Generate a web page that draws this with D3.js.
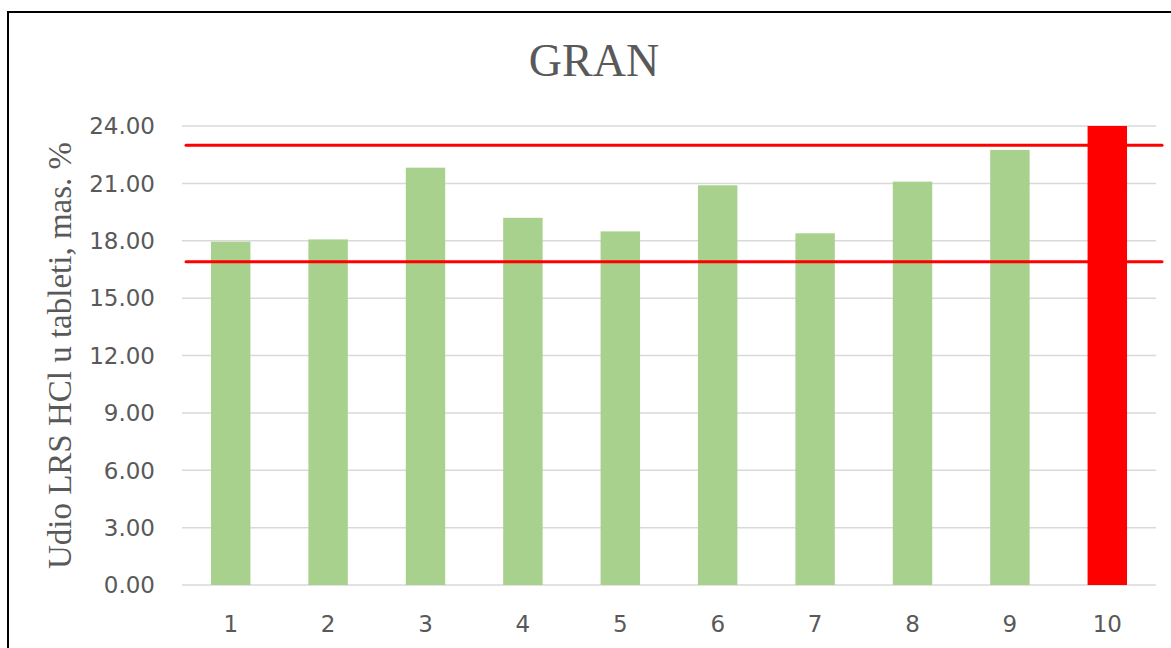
<!DOCTYPE html>
<html>
<head>
<meta charset="utf-8">
<script src="https://cdn.jsdelivr.net/npm/d3@7"></script>
<style>
  html, body { margin: 0; padding: 0; background: #fff; }
  svg { display: block; }
</style>
</head>
<body>
<svg id="chart"></svg>
<script>
const WIDTH = 1171;
const HEIGHT = 648;

// data
const samples = ["1", "2", "3", "4", "5", "6", "7", "8", "9", "10"];
const values = [17.95, 18.07, 21.82, 19.2, 18.49, 20.9, 18.39, 21.09, 22.75, 24.0];
const outOfRange = [false, false, false, false, false, false, false, false, false, true];
const limits = [23.0, 16.9];
const yTicks = [0, 3, 6, 9, 12, 15, 18, 21, 24];

const margin = { top: 126, right: 15, bottom: 63, left: 182 };

const svg = d3.select("#chart")
  .attr("width", WIDTH)
  .attr("height", HEIGHT);

// chart frame
svg.append("rect")
  .attr("x", 8)
  .attr("y", 12)
  .attr("width", 1200)
  .attr("height", 700)
  .attr("fill", "none")
  .attr("stroke", "#000")
  .attr("stroke-width", 2);

const x = d3.scaleBand()
  .domain(samples)
  .range([margin.left, WIDTH - margin.right])
  .paddingInner(0.595)
  .paddingOuter(0.2975);

const y = d3.scaleLinear()
  .domain([0, 24])
  .range([HEIGHT - margin.bottom, margin.top]);

// gridlines
svg.append("g")
  .selectAll("line")
  .data(yTicks)
  .join("line")
  .attr("x1", margin.left)
  .attr("x2", WIDTH - margin.right)
  .attr("y1", d => y(d))
  .attr("y2", d => y(d))
  .attr("stroke", "#d9d9d9")
  .attr("stroke-width", 1.5);

// y tick labels
svg.append("g")
  .selectAll("text")
  .data(yTicks)
  .join("text")
  .attr("x", margin.left - 27)
  .attr("y", d => y(d))
  .attr("dy", "0.36em")
  .attr("text-anchor", "end")
  .attr("font-family", "DejaVu Sans, sans-serif")
  .attr("font-size", 23)
  .attr("fill", "#595959")
  .text(d => d3.format(".2f")(d));

// bars
svg.append("g")
  .selectAll("rect")
  .data(values)
  .join("rect")
  .attr("x", (d, i) => x(samples[i]))
  .attr("y", d => y(d))
  .attr("width", x.bandwidth())
  .attr("height", d => y(0) - y(d))
  .attr("fill", (d, i) => outOfRange[i] ? "#ff0000" : "#a9d18e");

// limit lines
svg.append("g")
  .selectAll("line")
  .data(limits)
  .join("line")
  .attr("x1", x.range()[0] + 4)
  .attr("x2", x.range()[1] + 6)
  .attr("y1", d => y(d))
  .attr("y2", d => y(d))
  .attr("stroke", "#ff0000")
  .attr("stroke-width", 3)
  .attr("stroke-linecap", "round");

// x labels
svg.append("g")
  .selectAll("text")
  .data(samples)
  .join("text")
  .attr("x", d => x(d) + x.bandwidth() / 2)
  .attr("y", 632)
  .attr("text-anchor", "middle")
  .attr("font-family", "DejaVu Sans, sans-serif")
  .attr("font-size", 23)
  .attr("fill", "#595959")
  .text(d => d);

// title
svg.append("text")
  .attr("x", 594)
  .attr("y", 76)
  .attr("text-anchor", "middle")
  .attr("font-family", "Liberation Serif, serif")
  .attr("font-size", 46)
  .attr("fill", "#595959")
  .text("GRAN");

// y axis title
svg.append("text")
  .attr("transform", `translate(71, ${(y(0) + y(24)) / 2}) rotate(-90)`)
  .attr("text-anchor", "middle")
  .attr("font-family", "Liberation Serif, serif")
  .attr("font-size", 33)
  .attr("fill", "#595959")
  .text("Udio LRS HCl u tableti, mas. %");
</script>
</body>
</html>
